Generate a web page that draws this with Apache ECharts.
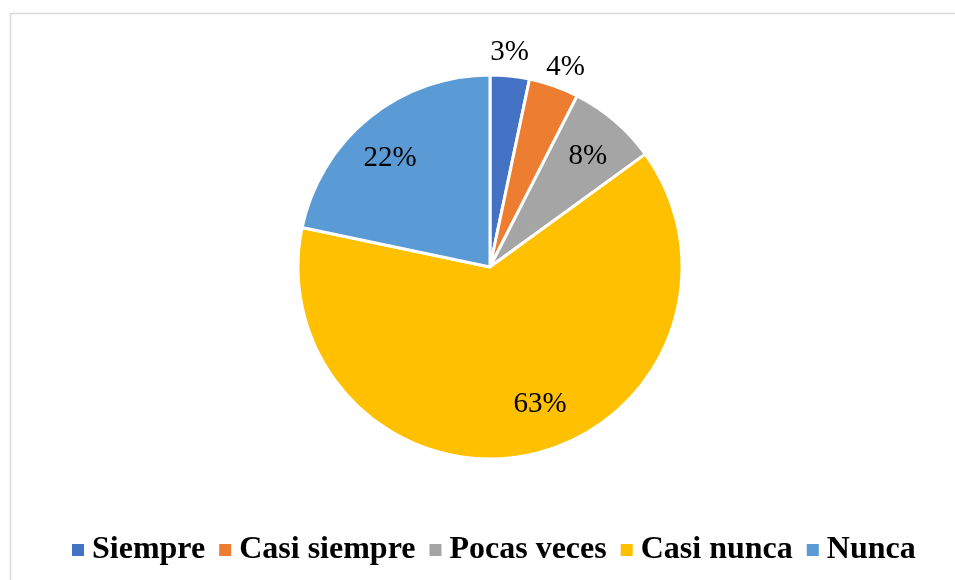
<!DOCTYPE html>
<html>
<head>
<meta charset="utf-8">
<script src="https://cdn.jsdelivr.net/npm/echarts@6/dist/echarts.min.js"></script>
<style>html,body{margin:0;padding:0;background:#fff;}#c{width:955px;height:580px;}</style>
</head>
<body>
<div id="c"></div>
<script>
const categories = ['Siempre', 'Casi siempre', 'Pocas veces', 'Casi nunca', 'Nunca'];
const values = [3.3, 4.2, 7.5, 63.3, 21.7];
const colors = ['#4472C4', '#ED7D31', '#A5A5A5', '#FFC000', '#5B9BD5'];
const outsideLabels = [true, true, false, false, false];
const labelNudges = [[-3, 2], [3, 6], [1, 3], [19, -8], [-6, 7]];

const chart = echarts.init(document.getElementById('c'));
const FONT = '"Liberation Serif", "Times New Roman", serif';
const center = [490, 267];
const R = 192;

function makeData(showFn, transparent) {
  return categories.map((n, i) => ({
    name: n,
    value: values[i],
    itemStyle: { color: transparent ? 'rgba(0,0,0,0)' : colors[i] },
    label: { show: showFn(i), offset: labelNudges[i] }
  }));
}

chart.setOption({
  animation: false,
  graphic: [{
    type: 'rect',
    shape: { x: 10.5, y: 13.5, width: 980, height: 600 },
    style: { fill: 'none', stroke: '#d9d9d9', lineWidth: 1.5 },
    silent: true
  }],
  legend: {
    data: categories,
    left: 72,
    top: 534,
    padding: 0,
    icon: 'rect',
    itemWidth: 12,
    itemHeight: 12,
    itemGap: 14,
    itemStyle: { borderWidth: 0 },
    textStyle: { fontFamily: FONT, fontWeight: 'bold', fontSize: 32, color: '#000', lineHeight: 32, padding: [0, 0, 0, 3] }
  },
  series: [
    {
      type: 'pie',
      center: center,
      radius: [0, R],
      startAngle: 90,
      clockwise: true,
      percentPrecision: 0,
      itemStyle: { borderColor: '#fff', borderWidth: 3 },
      label: { show: false },
      labelLine: { show: false },
      emphasis: { disabled: true },
      data: makeData(() => false, false)
    },
    {
      type: 'pie',
      center: center,
      radius: [0, R * 0.76 * 2],
      startAngle: 90,
      clockwise: true,
      silent: true,
      percentPrecision: 0,
      legendHoverLink: false,
      label: { position: 'inside', formatter: '{d}%', fontFamily: FONT, fontSize: 29, color: '#000' },
      labelLine: { show: false },
      data: makeData(i => !outsideLabels[i], true)
    },
    {
      type: 'pie',
      center: center,
      radius: [0, R * 1.12 * 2],
      startAngle: 90,
      clockwise: true,
      silent: true,
      percentPrecision: 0,
      legendHoverLink: false,
      label: { position: 'inside', formatter: '{d}%', fontFamily: FONT, fontSize: 29, color: '#000' },
      labelLine: { show: false },
      data: makeData(i => outsideLabels[i], true)
    }
  ]
});
</script>
</body>
</html>
